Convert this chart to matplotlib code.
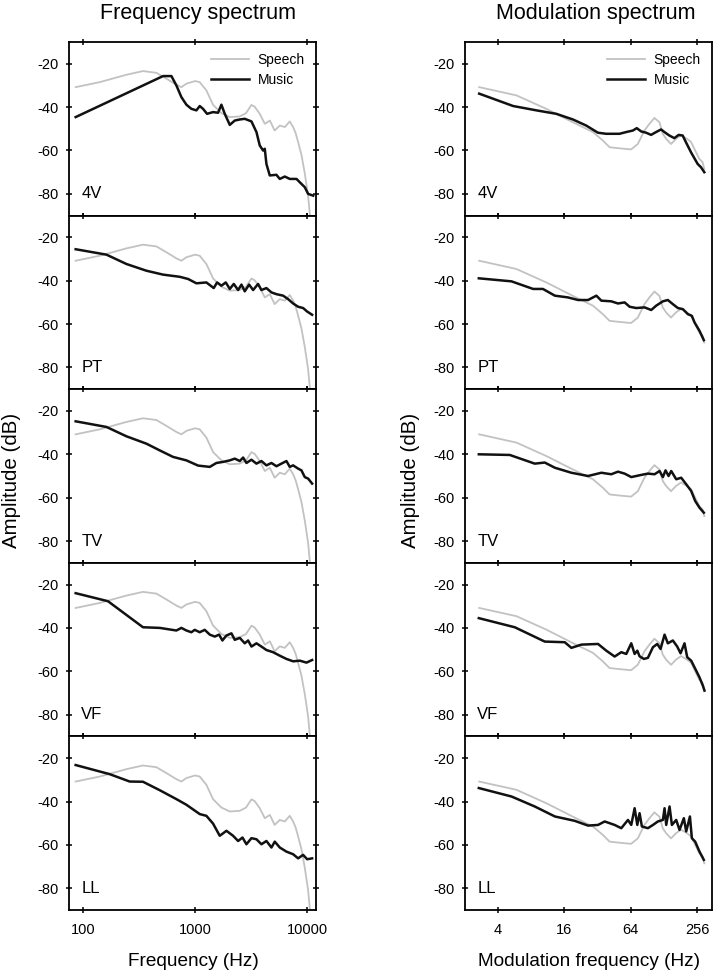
import matplotlib
matplotlib.use('Agg')
import matplotlib.pyplot as plt
from matplotlib.ticker import NullLocator, FixedLocator, FixedFormatter

plt.rcParams['font.family'] = ['Liberation Sans', 'DejaVu Sans']
plt.rcParams['axes.unicode_minus'] = False

panel_names = ['4V', 'PT', 'TV', 'VF', 'LL']

# Frequency spectrum: speech reference (same in every panel)
fs_speech_f = [86, 141, 244, 343, 452, 555, 681, 755, 837, 1000, 1100, 1262, 1450, 1720,
               2040, 2500, 2850, 3185, 3400, 3780, 4190, 4650, 5130, 5700, 6320, 7000,
               7500, 7900, 8300, 8900, 9550, 10200, 10600]
fs_speech_db = [-30.8, -28.5, -25.1, -23.4, -24.2, -26.9, -29.7, -30.8, -29.2, -28.0, -28.5,
                -32.3, -39.0, -42.8, -44.6, -44.3, -42.8, -39.0, -39.8, -43.1, -47.7, -46.2,
                -50.8, -48.5, -49.2, -46.6, -49.2, -52.0, -56.0, -62.0, -70.8, -80.8, -90.0]

# Frequency spectrum: music, per instrument
fs_4v_f = [86, 518, 615, 681, 755, 837, 927, 1028, 1101, 1178, 1279, 1448, 1604, 1718, 1841,
           2041, 2261, 2506, 2776, 3185, 3530, 3779, 4046, 4188, 4333, 4642, 5322, 5699,
           6322, 7000, 8035, 8900, 9530, 10210, 11320]
fs_4v_db = [-44.6, -25.7, -25.7, -30.0, -35.4, -38.9, -40.8, -41.5, -39.5, -40.8, -43.1, -42.3,
            -42.6, -38.9, -43.1, -48.2, -46.2, -45.7, -45.4, -46.6, -51.5, -57.7, -60.0, -59.2,
            -66.2, -71.5, -71.2, -73.1, -72.0, -73.1, -73.1, -75.4, -76.9, -80.0, -80.8]

fs_pt_f = [86, 162, 244, 368, 518, 730, 866, 1028, 1262, 1468, 1572, 1718, 1879, 2041, 2215,
           2422, 2594, 2776, 3035, 3296, 3651, 3910, 4333, 4804, 5322, 6108, 6767, 7499,
           8310, 9208, 10000, 11080]
fs_pt_db = [-25.5, -28.0, -32.3, -35.4, -37.2, -38.2, -39.2, -41.2, -40.8, -43.4, -40.8, -42.3,
            -40.8, -43.8, -41.5, -44.3, -41.8, -44.9, -41.8, -44.3, -41.5, -44.3, -43.4, -45.4,
            -46.2, -46.9, -48.5, -50.5, -52.0, -52.6, -54.2, -55.7]

fs_tv_f = [86, 162, 244, 368, 484, 636, 837, 1064, 1353, 1550, 1778, 2041, 2261, 2506, 2684,
           2873, 3185, 3530, 3910, 4333, 4804, 5322, 5899, 6537, 7000, 7499, 8310, 8900,
           9530, 10210, 11080]
fs_tv_db = [-24.8, -27.4, -31.7, -35.1, -38.2, -41.2, -42.8, -45.2, -45.8, -44.0, -43.5, -42.8,
            -42.0, -43.1, -41.5, -44.0, -42.5, -44.3, -43.1, -45.1, -44.0, -45.5, -44.3, -43.1,
            -45.8, -45.1, -46.6, -47.4, -50.5, -51.2, -53.5]

fs_vf_f = [86, 167, 343, 484, 681, 755, 837, 927, 993, 1101, 1220, 1353, 1499, 1638, 1754,
           1905, 2111, 2261, 2506, 2776, 2972, 3185, 3530, 3910, 4333, 4968, 5699, 6537,
           7499, 8604, 9870, 11080]
fs_vf_db = [-24.0, -27.7, -39.7, -40.0, -41.2, -40.0, -41.2, -42.0, -40.9, -42.0, -40.9, -43.1,
            -44.0, -43.1, -45.8, -43.5, -42.5, -45.5, -44.6, -47.1, -45.8, -48.6, -47.1, -48.6,
            -50.2, -51.2, -52.8, -54.3, -55.4, -55.1, -56.0, -54.8]

fs_ll_f = [86, 173, 261, 343, 484, 681, 837, 1101, 1262, 1448, 1660, 1905, 2184, 2422, 2650,
           2873, 3185, 3530, 3910, 4333, 4804, 5145, 5699, 6537, 7499, 8310, 9208, 10000, 11080]
fs_ll_db = [-23.2, -27.4, -30.8, -30.9, -34.8, -38.9, -41.5, -45.8, -46.6, -50.2, -55.8, -53.5,
            -55.8, -58.2, -56.6, -59.7, -56.9, -57.4, -59.7, -58.2, -61.2, -58.5, -61.2, -63.1,
            -64.3, -66.2, -64.6, -66.6, -66.2]

# Modulation spectrum: speech reference
ms_speech_f = [2.69, 5.86, 10.96, 19.1, 29.0, 35.7, 41.1, 50.6, 64.5, 74.2, 85.2, 94.6, 105,
               116.6, 125, 134, 148.6, 165, 183, 203, 225.5, 241.8, 268, 287.6, 298]
ms_speech_db = [-30.8, -34.6, -40.8, -47.0, -51.5, -55.4, -58.5, -59.0, -59.5, -57.0, -50.8,
                -47.7, -45.0, -47.0, -52.3, -54.6, -57.0, -54.6, -53.0, -54.3, -56.0, -59.2,
                -63.8, -65.4, -68.5]

# Modulation spectrum: music, per instrument
ms_4v_f = [2.69, 5.47, 8.9, 13.5, 19.1, 25.2, 32.2, 38.3, 50.6, 58.2, 66.9, 72.6, 79.5, 88.2,
           97.9, 108.7, 120.7, 129.4, 143.5, 159.3, 174.4, 189.6, 203, 225.5, 241.8, 259.3,
           277.8, 298]
ms_4v_db = [-33.8, -39.5, -41.5, -43.1, -45.7, -48.5, -51.8, -52.3, -52.3, -51.5, -50.8, -49.7,
            -51.2, -51.8, -52.8, -51.5, -50.3, -51.5, -53.1, -54.3, -52.8, -53.1, -56.2, -60.8,
            -63.5, -66.2, -67.7, -70.0]

ms_pt_f = [2.67, 5.29, 8.31, 10.2, 13.1, 17.2, 21.3, 26.2, 31.2, 34.6, 42.6, 49.0, 56.3, 62.5,
           71.8, 85.5, 98.2, 109, 125.3, 139, 154.4, 171.5, 190.3, 211, 229.7, 242.8, 269.5, 295]
ms_pt_db = [-38.9, -40.3, -43.8, -43.8, -46.9, -47.7, -48.9, -48.9, -46.9, -49.2, -49.5, -50.5,
            -50.0, -52.0, -52.6, -52.3, -53.5, -51.5, -49.5, -48.9, -50.8, -52.6, -53.1, -55.4,
            -56.2, -59.2, -63.1, -67.4]

ms_tv_f = [2.67, 5.1, 8.6, 10.6, 13.1, 18.5, 26.2, 34.6, 42.6, 49.0, 56.3, 64.7, 79.7, 91.6,
           105.3, 116.9, 125.3, 132.5, 141.1, 149.2, 165.6, 183.8, 204.1, 226.5, 246.2, 269.5, 295]
ms_tv_db = [-40.0, -40.3, -44.3, -43.8, -46.2, -48.5, -50.0, -48.5, -49.2, -48.0, -48.9, -50.5,
            -49.5, -48.9, -49.2, -47.7, -50.5, -47.4, -50.0, -47.7, -51.5, -50.8, -53.8, -56.9,
            -61.5, -64.6, -66.9]

ms_vf_f = [2.67, 5.66, 10.6, 16.1, 18.5, 22.8, 32.3, 38.4, 45.7, 52.5, 58.3, 64.7, 69.4, 73.4,
           77.0, 84.3, 91.6, 101.8, 111.4, 119.4, 129.8, 139, 154.4, 169.1, 181.3, 197, 208.4,
           226.5, 251.4, 269.5, 289, 299]
ms_vf_db = [-35.5, -39.7, -46.3, -46.6, -49.2, -47.7, -47.4, -50.5, -53.2, -51.2, -52.0, -47.1,
            -52.0, -50.5, -53.1, -54.3, -53.8, -48.9, -47.4, -49.7, -43.1, -47.1, -45.8, -48.6,
            -51.7, -47.1, -53.5, -55.1, -59.7, -62.8, -66.6, -68.9]

ms_ll_f = [2.67, 5.29, 8.6, 13.1, 19.8, 26.2, 32.3, 37.1, 45.7, 52.5, 60.4, 64.7, 69.4, 73.4,
           77.0, 80.8, 91.6, 101.8, 112.9, 125.3, 129.8, 134.4, 144.1, 151.3, 165.6, 177.5,
           194.3, 204.1, 220.6, 229.7, 246.2, 269.5, 295]
ms_ll_db = [-33.8, -37.7, -42.3, -46.9, -48.9, -51.1, -50.8, -49.2, -50.8, -52.3, -48.5, -50.8,
            -43.1, -50.8, -45.4, -51.5, -52.3, -50.8, -49.2, -48.5, -43.1, -50.8, -42.3, -50.8,
            -48.5, -53.1, -47.7, -53.8, -46.9, -56.9, -58.5, -63.1, -66.9]

fs_music = [(fs_4v_f, fs_4v_db), (fs_pt_f, fs_pt_db), (fs_tv_f, fs_tv_db),
            (fs_vf_f, fs_vf_db), (fs_ll_f, fs_ll_db)]
ms_music = [(ms_4v_f, ms_4v_db), (ms_pt_f, ms_pt_db), (ms_tv_f, ms_tv_db),
            (ms_vf_f, ms_vf_db), (ms_ll_f, ms_ll_db)]

y_ticks = [-20, -40, -60, -80]
fs_ticks = [100, 1000, 10000]
ms_ticks = [4, 16, 64, 256]

W, H = 716, 975
fig = plt.figure(figsize=(W / 100, H / 100), dpi=100)

top_px, bot_px = 42, 910
panel_h = (bot_px - top_px) / 5
col_left = [69, 465]
col_w = 247

speech_col = '#c2c2c2'
music_col = '#111111'


def style_axis(ax, right_ticks):
    ax.set_ylim(-90, -10)
    ax.set_yticks(y_ticks)
    ax.set_yticklabels([str(t) for t in y_ticks])
    ax.yaxis.set_minor_locator(NullLocator())
    ax.xaxis.set_minor_locator(NullLocator())
    for s in ax.spines.values():
        s.set_linewidth(1.3)
    ax.tick_params(axis='both', which='major', direction='inout', length=5, width=1.1,
                   labelsize=10.5, top=True, bottom=True, right=right_ticks, left=True)
    ax.tick_params(axis='y', pad=5)
    ax.tick_params(axis='x', pad=7)


for col in range(2):
    for i, name in enumerate(panel_names):
        y0 = 1 - (top_px + (i + 1) * panel_h) / H
        ax = fig.add_axes([col_left[col] / W, y0, col_w / W, panel_h / H])
        if col == 0:
            mf, mdb = fs_music[i]
            ax.plot(fs_speech_f, fs_speech_db, color=speech_col, lw=1.3, label='Speech')
            ax.plot(mf, mdb, color=music_col, lw=1.8, label='Music')
            ax.set_xscale('log')
            ax.set_xlim(75, 12000)
            ax.xaxis.set_major_locator(FixedLocator(fs_ticks))
            ax.xaxis.set_major_formatter(FixedFormatter([str(t) for t in fs_ticks]))
        else:
            mf, mdb = ms_music[i]
            ax.plot(ms_speech_f, ms_speech_db, color=speech_col, lw=1.3, label='Speech')
            ax.plot(mf, mdb, color=music_col, lw=1.8, label='Music')
            ax.set_xscale('log', base=2)
            ax.set_xlim(2, 350)
            ax.xaxis.set_major_locator(FixedLocator(ms_ticks))
            ax.xaxis.set_major_formatter(FixedFormatter([str(t) for t in ms_ticks]))
        style_axis(ax, right_ticks=(col == 0))
        if i < 4:
            ax.tick_params(axis='x', labelbottom=False)
        ax.text(0.05, -80, name, transform=ax.get_yaxis_transform(), fontsize=12,
                va='center', ha='left')
        if i == 0:
            ax.legend(loc='upper right', frameon=False, fontsize=10, handlelength=2.8,
                      borderaxespad=0.4, labelspacing=0.45, handletextpad=0.6)

fig.text(198 / W, 1 - 14 / H, 'Frequency spectrum', fontsize=15.5, ha='center', va='center')
fig.text(596 / W, 1 - 14 / H, 'Modulation spectrum', fontsize=15.5, ha='center', va='center')
fig.text(193 / W, 1 - 962 / H, 'Frequency (Hz)', fontsize=13.7, ha='center', va='center')
fig.text(589 / W, 1 - 962 / H, 'Modulation frequency (Hz)', fontsize=13.7, ha='center', va='center')
fig.text(12 / W, 1 - 480 / H, 'Amplitude (dB)', fontsize=14.8, rotation=90, ha='center', va='center')
fig.text(411 / W, 1 - 480 / H, 'Amplitude (dB)', fontsize=14.8, rotation=90, ha='center', va='center')

fig.savefig('out.png', dpi=100)
